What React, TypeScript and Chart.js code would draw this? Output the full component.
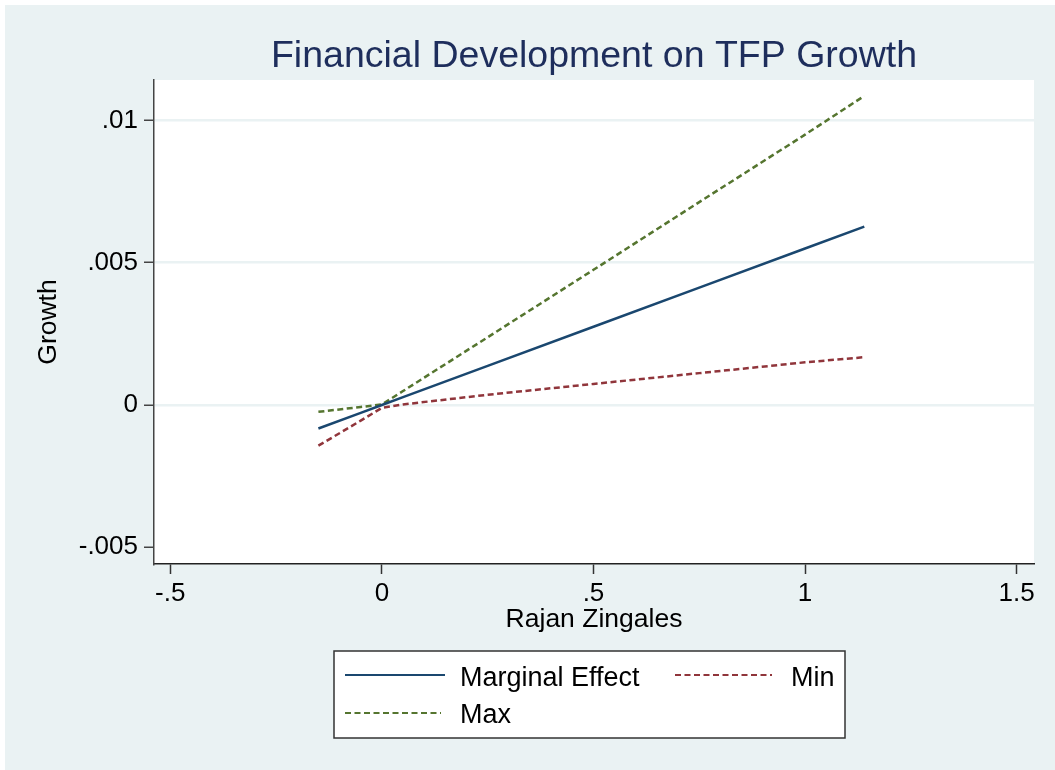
import React, { useEffect, useRef } from "react";
import { Chart, registerables } from "chart.js";

Chart.register(...registerables);

const xValues = [-0.15, -0.05, 0, 0.05, 0.25, 0.5, 0.75, 1.0, 1.14];
const marginalEffect = [-0.000825, -0.000275, 0, 0.000275, 0.001375, 0.00275, 0.004125, 0.0055, 0.00627];
const minValues = [-0.00143, -0.00055, -0.0001, 0.00002, 0.00036, 0.00074, 0.00112, 0.0015, 0.00168];
const maxValues = [-0.00024, -0.00007, 0.00002, 0.00049, 0.00238, 0.00475, 0.00713, 0.0095, 0.01086];

const xTickValues = [-0.5, 0, 0.5, 1, 1.5];
const xTickLabels = ["-.5", "0", ".5", "1", "1.5"];
const yTickValues = [-0.005, 0, 0.005, 0.01];
const yTickLabels = ["-.005", "0", ".005", ".01"];

const seriesNames = ["Marginal Effect", "Min", "Max"];
const titleText = "Financial Development on TFP Growth";
const xTitle = "Rajan Zingales";
const yTitle = "Growth";

const FONT = '"Liberation Sans", Arial, sans-serif';
const BG = "#EAF2F3";

const decorPlugin = {
  id: "stataDecor",
  beforeDraw(chart: any) {
    const { ctx, chartArea, width, height } = chart;
    ctx.save();
    ctx.fillStyle = "#ffffff";
    ctx.fillRect(0, 0, width, height);
    ctx.fillStyle = BG;
    ctx.fillRect(5, 5, width, height);
    ctx.fillStyle = "#ffffff";
    ctx.fillRect(chartArea.left, chartArea.top, chartArea.right - chartArea.left, chartArea.bottom - chartArea.top);
    ctx.restore();
  },
  afterDraw(chart: any) {
    const { ctx, chartArea } = chart;
    ctx.save();
    ctx.fillStyle = "#1E2E5C";
    ctx.font = `37.5px ${FONT}`;
    ctx.textAlign = "center";
    ctx.textBaseline = "alphabetic";
    ctx.fillText(titleText, (chartArea.left + chartArea.right) / 2, 67);

    const bx = 334, by = 651, bw = 511, bh = 87;
    ctx.fillStyle = "#ffffff";
    ctx.fillRect(bx, by, bw, bh);
    ctx.strokeStyle = "#333333";
    ctx.lineWidth = 1.5;
    ctx.strokeRect(bx, by, bw, bh);

    const entries = [
      { ds: 0, x1: 345, x2: 445, ly: 675, tx: 460, ty: 685.5 },
      { ds: 1, x1: 675, x2: 772, ly: 675, tx: 791, ty: 685.5 },
      { ds: 2, x1: 345, x2: 441, ly: 713, tx: 460, ty: 723 },
    ];
    ctx.font = `27px ${FONT}`;
    ctx.textAlign = "left";
    for (const e of entries) {
      const d = chart.data.datasets[e.ds];
      ctx.beginPath();
      ctx.strokeStyle = d.borderColor;
      ctx.lineWidth = e.ds === 0 ? 2.2 : 1.8;
      ctx.setLineDash(d.borderDash || []);
      ctx.moveTo(e.x1, e.ly);
      ctx.lineTo(e.x2, e.ly);
      ctx.stroke();
      ctx.setLineDash([]);
      ctx.fillStyle = "#000000";
      ctx.fillText(d.label, e.tx, e.ty);
    }
    ctx.restore();
  },
};

export default function App() {
  const canvasRef = useRef<HTMLCanvasElement | null>(null);

  useEffect(() => {
    if (!canvasRef.current) return;
    const mk = (vals: number[]) => xValues.map((x, i) => ({ x, y: vals[i] }));
    const chart = new Chart(canvasRef.current, {
      type: "line",
      data: {
        datasets: [
          {
            label: seriesNames[0],
            data: mk(marginalEffect),
            borderColor: "#1A476F",
            borderWidth: 2.5,
            pointRadius: 0,
            tension: 0,
          },
          {
            label: seriesNames[1],
            data: mk(minValues),
            borderColor: "#90353B",
            borderWidth: 2.5,
            borderDash: [6, 3.5],
            pointRadius: 0,
            tension: 0,
          },
          {
            label: seriesNames[2],
            data: mk(maxValues),
            borderColor: "#55752F",
            borderWidth: 2.5,
            borderDash: [6, 3.5],
            pointRadius: 0,
            tension: 0,
          },
        ],
      },
      options: {
        animation: false,
        responsive: false,
        events: [],
        layout: { padding: { left: 0, right: 21, top: 80, bottom: 126 } },
        plugins: {
          legend: { display: false },
          title: { display: false },
          tooltip: { enabled: false },
        },
        scales: {
          x: {
            type: "linear",
            min: -0.5385,
            max: 1.541,
            afterFit: (s: any) => {
              s.height = 80;
            },
            afterBuildTicks: (s: any) => {
              s.ticks = xTickValues.map((v) => ({ value: v }));
            },
            ticks: {
              autoSkip: false,
              maxRotation: 0,
              padding: 4,
              color: "#000000",
              font: { family: FONT, size: 26 },
              callback: (v: any) => xTickLabels[xTickValues.indexOf(Number(v))],
            },
            grid: {
              drawOnChartArea: false,
              drawTicks: true,
              tickLength: 10,
              tickColor: "#333333",
              tickWidth: 1.5,
            },
            border: { display: true, color: "#222222", width: 1.5 },
            title: {
              display: true,
              text: xTitle,
              color: "#000000",
              font: { family: FONT, size: 26.5 },
              padding: { top: 0, bottom: 8 },
            },
          },
          y: {
            type: "linear",
            min: -0.005587,
            max: 0.01142,
            afterFit: (s: any) => {
              s.width = 154;
            },
            afterBuildTicks: (s: any) => {
              s.ticks = yTickValues.map((v) => ({ value: v }));
            },
            ticks: {
              autoSkip: false,
              padding: 6,
              color: "#000000",
              font: { family: FONT, size: 26 },
              callback: (v: any) => yTickLabels[yTickValues.indexOf(Number(v))],
            },
            grid: {
              color: (c: any) => (c.tick && c.tick.value === yTickValues[0] ? "rgba(0,0,0,0)" : BG),
              lineWidth: 2.5,
              drawTicks: true,
              tickLength: 10,
              tickColor: "#444444",
              tickWidth: 1.5,
            },
            border: { display: true, color: "#444444", width: 1.5 },
            title: {
              display: true,
              text: yTitle,
              color: "#000000",
              font: { family: FONT, size: 26.5 },
              padding: { top: 33, bottom: 0 },
            },
          },
        },
      },
      plugins: [decorPlugin],
    } as any);
    return () => chart.destroy();
  }, []);

  return (
    <div style={{ position: "fixed", left: 0, top: 0, right: 0, bottom: 0, background: BG, overflow: "hidden" }}>
      <canvas ref={canvasRef} width={1055} height={770} style={{ display: "block" }} />
    </div>
  );
}
